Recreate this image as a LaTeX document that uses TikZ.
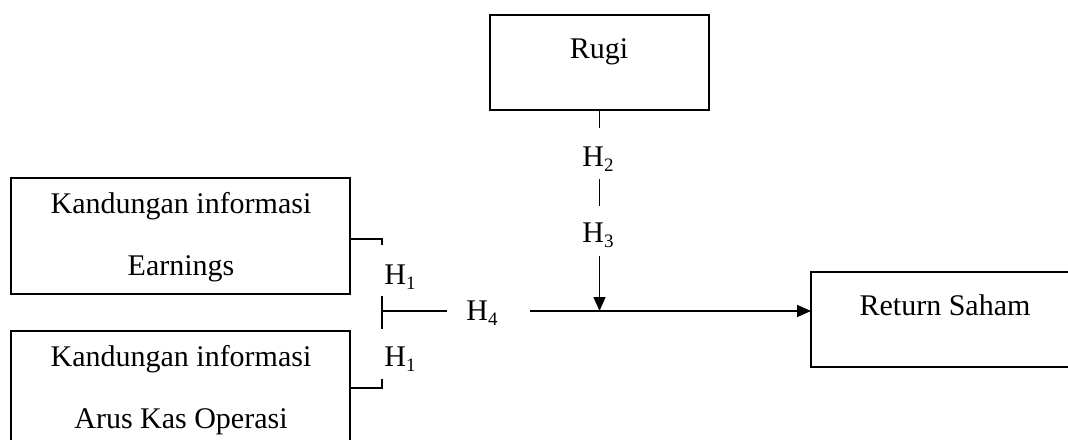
\documentclass[tikz,border=0pt]{standalone}
\usepackage{fontspec}
\setmainfont{Liberation Serif}
\usetikzlibrary{arrows.meta}
\newcommand{\hsub}[1]{\raisebox{-5pt}{\fontsize{19}{22}\selectfont #1}}
\tikzset{
  box/.style={draw, line width=1.5pt, inner sep=0pt, outer sep=0pt, anchor=north west},
  lbl/.style={inner sep=0pt, anchor=base, font=\fontsize{30}{36}\selectfont},
  link/.style={line width=1.5pt},
  arr/.style={line width=1.5pt, -{Triangle[length=14pt,width=12pt]}},
}
\begin{document}
\begin{tikzpicture}[x=1pt,y=-1pt]
\useasboundingbox (0,0) rectangle (1068,439);
\clip (0,0) rectangle (1068,439);

% boxes
\node[box, minimum width=219pt, minimum height=95pt]  (rugi) at (490,15)  {};
\node[box, minimum width=339pt, minimum height=116pt] (earn) at (11,178)  {};
\node[box, minimum width=339pt, minimum height=130pt] (arus) at (11,331)  {};
\node[box, minimum width=259pt, minimum height=95pt]  (ret)  at (811,272) {};

% box texts
\node[lbl] (trugi) at (599,58)   {Rugi};
\node[lbl] (te1)   at (181,213)  {Kandungan informasi};
\node[lbl] (te2)   at (181,275)  {Earnings};
\node[lbl] (ta1)   at (181,366)  {Kandungan informasi};
\node[lbl] (ta2)   at (181,428)  {Arus Kas Operasi};
\node[lbl] (tret)  at (945,315)  {Return Saham};

% hypothesis labels
\node[lbl] (h1a) at (400,284) {H\hsub{1}};
\node[lbl] (h1b) at (400,366) {H\hsub{1}};
\node[lbl] (h4)  at (482,320) {H\hsub{4}};
\node[lbl] (h2)  at (598,166) {H\hsub{2}};
\node[lbl] (h3)  at (598,242) {H\hsub{3}};

% bracket joining the two left boxes
\coordinate (b1) at (382,239);
\coordinate (b2) at (382,388);
\coordinate (jt) at (382,296);
\coordinate (jb) at (382,329);
\coordinate (jm) at (382,311);
\coordinate (jr) at (447,311);
\draw[link] (b1 -| earn.east) -- (b1) -- ++(0,6);
\draw[link] (b2 -| arus.east) -- (b2) -- ++(0,-9);
\draw[link] (jt) -- (jb);
\draw[link] (jm) -- (jr);

% main path to Return Saham
\coordinate (m0) at (530,311);
\draw[arr] (m0) -- (m0 -| ret.west);

% moderating path from Rugi
\coordinate (v1) at (599.5,128);
\coordinate (v2) at (599.5,179);
\coordinate (v3) at (599.5,206);
\coordinate (v4) at (599.5,256);
\draw[link] (rugi.south) -- (v1);
\draw[link] (v2) -- (v3);
\draw[arr] (v4) -- (v4 |- m0);
\end{tikzpicture}
\end{document}
